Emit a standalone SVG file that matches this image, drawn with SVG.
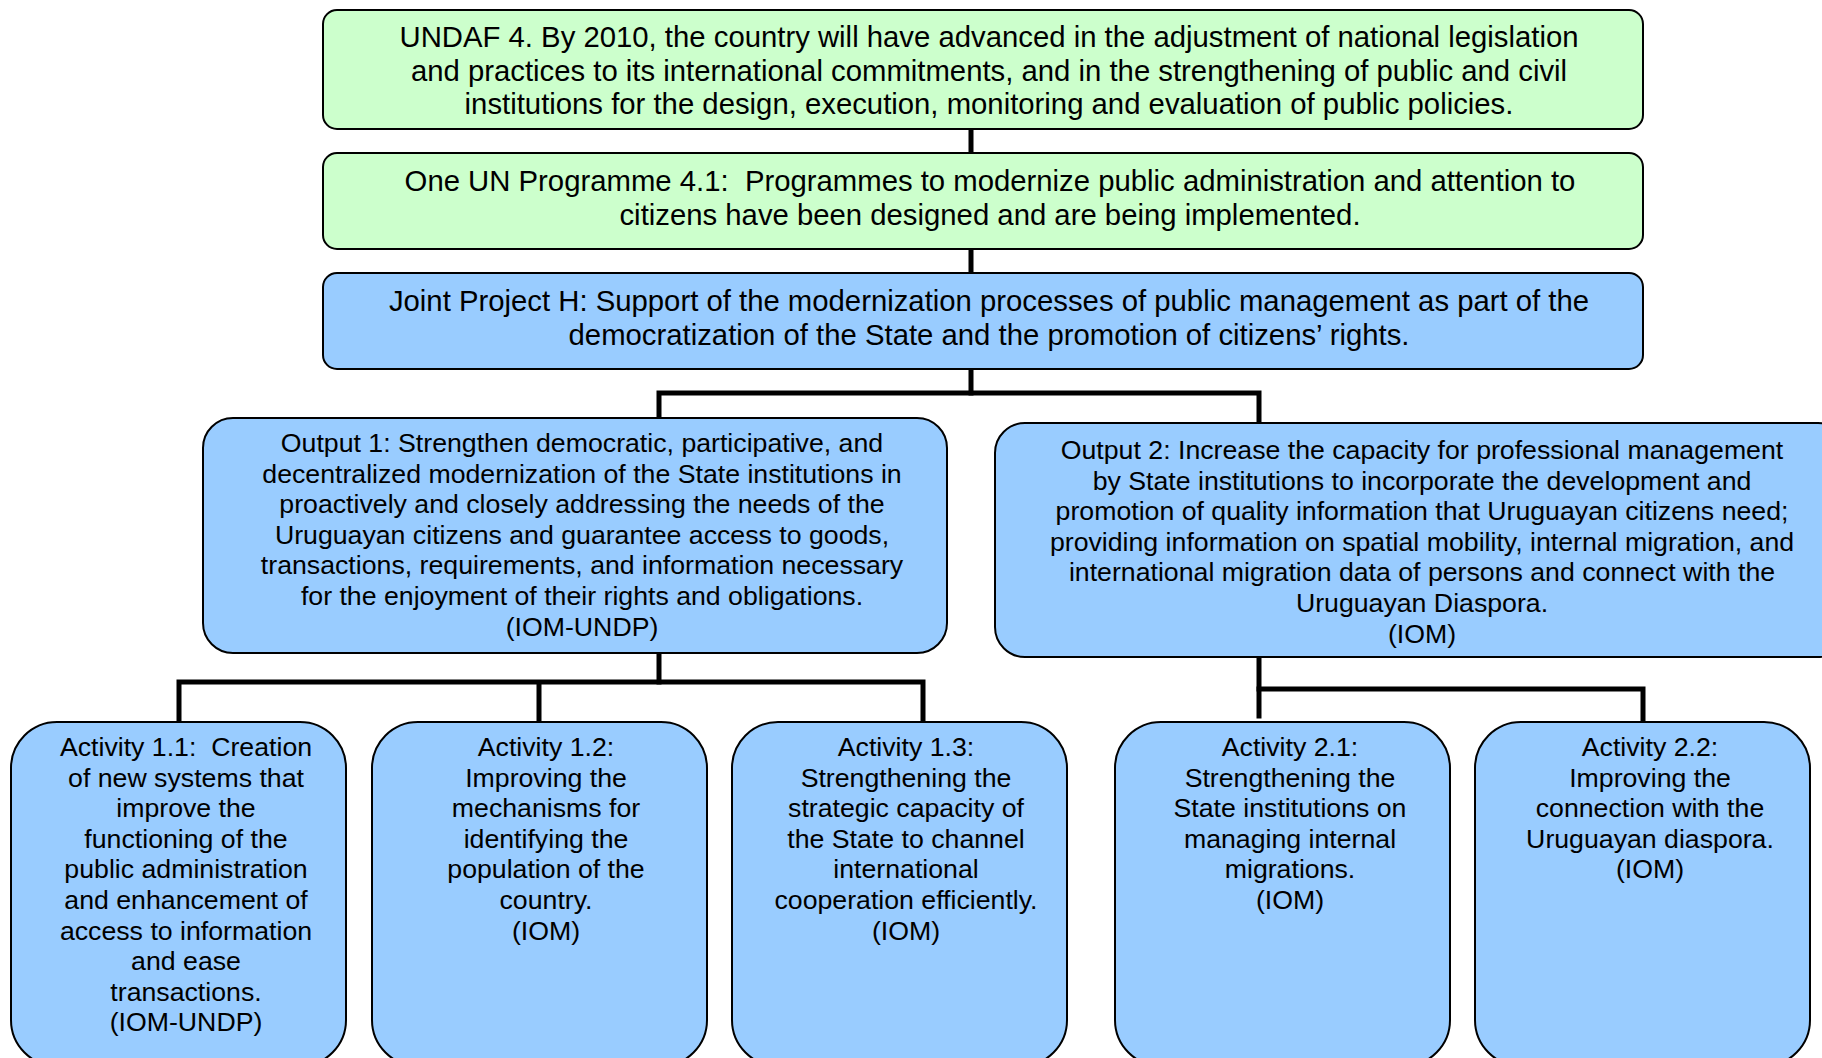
<svg xmlns="http://www.w3.org/2000/svg" width="1822" height="1058" viewBox="0 0 1822 1058">
<style>
.g{fill:#CCFFCC;stroke:#000;stroke-width:2}
.b{fill:#99CCFF;stroke:#000;stroke-width:2}
.t{font-family:"Liberation Sans",Arial,sans-serif;font-size:29.3px;fill:#000;text-anchor:middle}
.s{font-family:"Liberation Sans",Arial,sans-serif;font-size:26.7px;fill:#000;text-anchor:middle}
.c{fill:none;stroke:#000;stroke-width:5;stroke-linejoin:miter;stroke-linecap:square}
</style>
<rect width="1822" height="1058" fill="#fff"/>
<g id="connectors">
<path class="c" d="M971 131V151M971 251V271M971 371V393"/>
<path class="c" d="M659 416V393H1259V421"/>
<path class="c" d="M659 655V682"/>
<path class="c" d="M179 720V682H923V720M539 682V720"/>
<path class="c" d="M1259 659V716"/>
<path class="c" d="M1259 689H1643V720"/>
</g>
<g id="undaf">
<rect class="g" x="323" y="10" width="1320" height="119" rx="14"/>
<text class="t"><tspan x="989" y="47">UNDAF 4. By 2010, the country will have advanced in the adjustment of national legislation</tspan><tspan x="989" y="80.7">and practices to its international commitments, and in the strengthening of public and civil</tspan><tspan x="989" y="114.4">institutions for the design, execution, monitoring and evaluation of public policies.</tspan></text>
</g>
<g id="oneun">
<rect class="g" x="323" y="153" width="1320" height="96" rx="14"/>
<text class="t" xml:space="preserve"><tspan x="990" y="191">One UN Programme 4.1:  Programmes to modernize public administration and attention to</tspan><tspan x="990" y="224.5">citizens have been designed and are being implemented.</tspan></text>
</g>
<g id="jointH">
<rect class="b" x="323" y="273" width="1320" height="96" rx="14"/>
<text class="t"><tspan x="989" y="311">Joint Project H: Support of the modernization processes of public management as part of the</tspan><tspan x="989" y="344.5">democratization of the State and the promotion of citizens’ rights.</tspan></text>
</g>
<g id="output1">
<rect class="b" x="203" y="418" width="744" height="235" rx="30"/>
<text class="s"><tspan x="582" y="452">Output 1: Strengthen democratic, participative, and</tspan><tspan x="582" y="482.6">decentralized modernization of the State institutions in</tspan><tspan x="582" y="513.2">proactively and closely addressing the needs of the</tspan><tspan x="582" y="543.8">Uruguayan citizens and guarantee access to goods,</tspan><tspan x="582" y="574.4">transactions, requirements, and information necessary</tspan><tspan x="582" y="605">for the enjoyment of their rights and obligations.</tspan><tspan x="582" y="635.6">(IOM-UNDP)</tspan></text>
</g>
<g id="output2">
<rect class="b" x="995" y="423" width="853" height="234" rx="30"/>
<text class="s"><tspan x="1422" y="459">Output 2: Increase the capacity for professional management</tspan><tspan x="1422" y="489.6">by State institutions to incorporate the development and</tspan><tspan x="1422" y="520.2">promotion of quality information that Uruguayan citizens need;</tspan><tspan x="1422" y="550.8">providing information on spatial mobility, internal migration, and</tspan><tspan x="1422" y="581.4">international migration data of persons and connect with the</tspan><tspan x="1422" y="612">Uruguayan Diaspora.</tspan><tspan x="1422" y="642.6">(IOM)</tspan></text>
</g>
<g id="act11">
<rect class="b" x="11" y="722" width="335" height="344" rx="46"/>
<text class="s" xml:space="preserve"><tspan x="186" y="756">Activity 1.1:  Creation</tspan><tspan x="186" y="786.6">of new systems that</tspan><tspan x="186" y="817.2">improve the</tspan><tspan x="186" y="847.8">functioning of the</tspan><tspan x="186" y="878.4">public administration</tspan><tspan x="186" y="909">and enhancement of</tspan><tspan x="186" y="939.6">access to information</tspan><tspan x="186" y="970.2">and ease</tspan><tspan x="186" y="1000.8">transactions.</tspan><tspan x="186" y="1031.4">(IOM-UNDP)</tspan></text>
</g>
<g id="act12">
<rect class="b" x="372" y="722" width="335" height="344" rx="46"/>
<text class="s"><tspan x="546" y="756">Activity 1.2:</tspan><tspan x="546" y="786.6">Improving the</tspan><tspan x="546" y="817.2">mechanisms for</tspan><tspan x="546" y="847.8">identifying the</tspan><tspan x="546" y="878.4">population of the</tspan><tspan x="546" y="909">country.</tspan><tspan x="546" y="939.6">(IOM)</tspan></text>
</g>
<g id="act13">
<rect class="b" x="732" y="722" width="335" height="344" rx="46"/>
<text class="s"><tspan x="906" y="756">Activity 1.3:</tspan><tspan x="906" y="786.6">Strengthening the</tspan><tspan x="906" y="817.2">strategic capacity of</tspan><tspan x="906" y="847.8">the State to channel</tspan><tspan x="906" y="878.4">international</tspan><tspan x="906" y="909">cooperation efficiently.</tspan><tspan x="906" y="939.6">(IOM)</tspan></text>
</g>
<g id="act21">
<rect class="b" x="1115" y="722" width="335" height="344" rx="46"/>
<text class="s"><tspan x="1290" y="756">Activity 2.1:</tspan><tspan x="1290" y="786.6">Strengthening the</tspan><tspan x="1290" y="817.2">State institutions on</tspan><tspan x="1290" y="847.8">managing internal</tspan><tspan x="1290" y="878.4">migrations.</tspan><tspan x="1290" y="909">(IOM)</tspan></text>
</g>
<g id="act22">
<rect class="b" x="1475" y="722" width="335" height="344" rx="46"/>
<text class="s"><tspan x="1650" y="756">Activity 2.2:</tspan><tspan x="1650" y="786.6">Improving the</tspan><tspan x="1650" y="817.2">connection with the</tspan><tspan x="1650" y="847.8">Uruguayan diaspora.</tspan><tspan x="1650" y="878.4">(IOM)</tspan></text>
</g>
</svg>
